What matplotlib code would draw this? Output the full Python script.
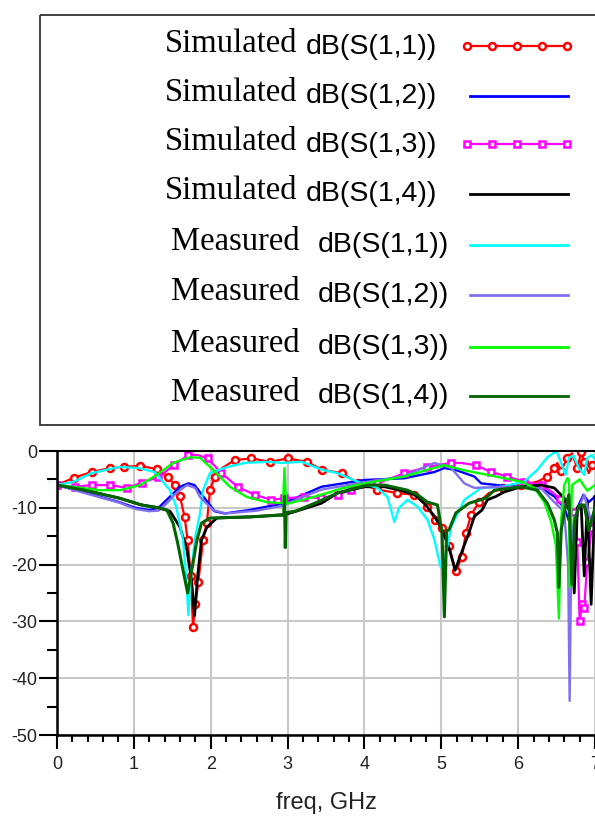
import matplotlib
matplotlib.use('Agg')
import matplotlib.pyplot as plt
from matplotlib.ticker import MultipleLocator
from matplotlib.patches import Rectangle

plt.rcParams['axes.unicode_minus'] = False

# S-parameter traces (freq in GHz, dB)
sim_s11_f = [0, 0.22, 0.45, 0.69, 0.87, 1.08, 1.3, 1.45, 1.53, 1.6, 1.66, 1.7, 1.74, 1.77, 1.8,
             1.84, 1.9, 1.95, 1.99, 2.05, 2.15, 2.31, 2.53, 2.77, 3.0, 3.25, 3.45, 3.71, 3.91, 4.17,
             4.43, 4.65, 4.82, 4.92, 5.01, 5.1, 5.19, 5.27, 5.32, 5.39, 5.49, 5.62, 5.8, 6.04, 6.25,
             6.38, 6.47, 6.51, 6.56, 6.64, 6.7, 6.77, 6.82, 6.86, 6.92, 6.96, 7.0]
sim_s11_db = [-6, -4.7, -3.7, -3.0, -2.8, -2.6, -3.2, -4.6, -6, -8, -11.6, -15.7, -22, -31, -27,
              -23, -15.7, -12.7, -6.9, -4.6, -3.0, -1.6, -1.3, -1.9, -1.3, -1.9, -3.3, -3.9, -5.6, -6.8,
              -7.4, -7.7, -9.8, -12.1, -13.5, -16.8, -21.2, -18.6, -14.4, -11.2, -9.0, -7.4, -6.6, -6.0, -5.4,
              -4.5, -3.0, -2.1, -3.5, -1.2, -0.4, -3.0, -0.2, -1.9, -3.9, -2.5, -2.0]

sim_s12_f = [0, 0.36, 0.81, 1.02, 1.2, 1.32, 1.45, 1.6, 1.71, 1.79, 1.92, 2.05, 2.18, 2.5, 2.96,
             3.0, 3.44, 4.0, 4.52, 4.91, 5.04, 5.2, 5.43, 5.52, 5.8, 6.04, 6.3, 6.47, 6.6, 6.68,
             6.72, 6.77, 6.85, 6.92, 7.0]
sim_s12_db = [-6, -7.3, -9.0, -10, -10.4, -10, -8.3, -6.3, -5.7, -6, -8.3, -10.6, -11, -10.4, -9.2,
              -8.9, -6.3, -5.1, -4.8, -3.7, -3.0, -3.4, -4.5, -5.7, -6.1, -6.3, -6.5, -8, -10, -13,
              -18, -10, -7.7, -9, -8]

sim_s13_f = [0, 0.23, 0.45, 0.69, 0.91, 1.1, 1.32, 1.52, 1.71, 1.83, 1.96, 2.14, 2.35, 2.57, 2.79,
             2.96, 3.22, 3.44, 3.65, 3.82, 4.17, 4.52, 4.82, 5.12, 5.26, 5.45, 5.65, 5.86, 6.08, 6.31,
             6.44, 6.55, 6.64, 6.73, 6.77, 6.8, 6.83, 6.86, 6.9, 6.96, 7.0]
sim_s13_db = [-6, -6.3, -6.0, -6.0, -6.5, -5.6, -4.6, -2.5, -0.7, -0.7, -1.3, -3.9, -6.3, -7.7, -8.6,
              -8.3, -8.1, -8.3, -7.7, -6.9, -5.7, -3.9, -2.8, -2.1, -2.1, -2.5, -3.7, -4.5, -5.4, -6.0,
              -7.2, -8.5, -9.2, -10.7, -16, -30, -27, -27.6, -19.5, -13.5, -12]

sim_s14_f = [0, 0.36, 0.81, 1.1, 1.32, 1.47, 1.6, 1.69, 1.75, 1.79, 1.83, 1.88, 1.95, 2.08, 2.53,
             2.96, 3.09, 3.44, 3.65, 4.0, 4.26, 4.47, 4.65, 4.78, 4.91, 5.0, 5.1, 5.18, 5.26, 5.36,
             5.43, 5.53, 5.6, 5.71, 5.82, 6.04, 6.3, 6.47, 6.6, 6.68, 6.73, 6.77, 6.82, 6.86, 6.9,
             6.95, 7.0]
sim_s14_db = [-6, -6.9, -8.3, -9.5, -10, -10.6, -13.4, -17.4, -22.7, -29, -22, -15.7, -13.4, -11.8, -11.6,
              -11.2, -10.7, -9.2, -7.4, -6.3, -6.3, -6.9, -7.7, -9.2, -11.5, -13.5, -17, -21, -18, -14.4,
              -11.5, -10.4, -8.6, -8, -7.2, -6.3, -6.0, -6.5, -8.3, -11, -25, -10, -9.5, -22, -9,
              -27, -8]

meas_s11_f = [0, 0.22, 0.45, 0.81, 1.06, 1.27, 1.47, 1.55, 1.64, 1.68, 1.71, 1.74, 1.8, 1.86, 1.9,
              1.99, 2.22, 2.44, 2.74, 2.94, 3.18, 3.45, 3.65, 3.91, 4.17, 4.3, 4.39, 4.45, 4.56, 4.69,
              4.82, 4.91, 4.99, 5.02, 5.13, 5.3, 5.52, 5.78, 6.08, 6.25, 6.38, 6.5, 6.57, 6.62, 6.66,
              6.72, 6.79, 6.86, 6.9, 6.96, 7.0]
meas_s11_db = [-6, -5.4, -3.9, -2.8, -3.0, -3.7, -6.9, -9.8, -15.7, -22, -28.9, -22, -15, -11, -6.9,
               -3.9, -2.8, -2.1, -1.9, -2.1, -1.9, -3.3, -3.9, -5.4, -6.5, -8.1, -12.5, -10, -8.6, -9.8,
               -12.1, -15.6, -20.4, -20.7, -13.3, -8.6, -6.5, -6.3, -5.4, -3.3, -1.1, 0, -2.5, -4.2, -1.2,
               -0.8, -3, -4.2, -1.2, -0.7, -1.5]

meas_s12_f = [0, 0.36, 0.81, 1.02, 1.2, 1.32, 1.43, 1.55, 1.69, 1.8, 1.86, 2.03, 2.2, 2.6, 2.96,
              3.0, 3.44, 4.0, 4.5, 4.91, 5.13, 5.3, 5.43, 5.8, 6.04, 6.3, 6.47, 6.6, 6.65, 6.67,
              6.69, 6.73, 6.86, 6.95, 7.0]
meas_s12_db = [-6, -7.4, -9.1, -10.2, -10.6, -10.5, -9.2, -7.4, -6, -6.5, -8.1, -10.4, -11, -10.5, -9.6,
               -9.2, -6.8, -5.5, -4.5, -2.1, -3.0, -5.7, -6.5, -6.3, -6.3, -6.6, -9, -10.7, -20, -44,
               -20, -11.8, -7.7, -12.5, -10]

meas_s13_f = [0, 0.2, 0.56, 0.82, 1.08, 1.3, 1.51, 1.73, 1.86, 2.03, 2.25, 2.47, 2.73, 2.94, 2.96,
              2.98, 3.0, 3.2, 3.44, 3.7, 4.0, 4.52, 4.82, 5.04, 5.3, 5.6, 6.04, 6.21, 6.34, 6.43,
              6.49, 6.53, 6.56, 6.6, 6.64, 6.66, 6.67, 6.7, 6.8, 6.9, 7.0]
meas_s13_db = [-6, -6.3, -6.9, -6.9, -6.0, -4.2, -2.1, -1.1, -1.2, -3.3, -6.3, -8.1, -9.0, -9.2, -3.0,
               -9.0, -9.3, -8.6, -7.7, -6.6, -5.7, -4.5, -3.3, -2.5, -3.4, -4.2, -5.4, -6.5, -9.0, -12.5,
               -16.5, -29.5, -12, -6, -4.8, -5, -24, -6, -5, -7, -6]

meas_s14_f = [0, 0.36, 0.81, 1.1, 1.32, 1.43, 1.51, 1.57, 1.64, 1.7, 1.77, 1.82, 1.88, 1.99, 2.5,
              2.9, 2.95, 2.96, 2.97, 2.98, 3.0, 3.1, 3.39, 3.65, 4.04, 4.26, 4.56, 4.69, 4.82, 4.95,
              5.01, 5.04, 5.07, 5.1, 5.19, 5.36, 5.58, 5.69, 6.04, 6.25, 6.38, 6.47, 6.51, 6.53, 6.56,
              6.6, 6.66, 6.7, 6.74, 6.8, 6.86, 6.92, 7.0]
meas_s14_db = [-6, -6.9, -8.3, -9.5, -10, -10.4, -12.7, -16.2, -21, -25, -19.7, -15.7, -12.7, -11.8, -11.6,
               -11.3, -11.3, -8, -17, -11, -10.8, -10.6, -9, -7.4, -6, -6, -6.9, -7.7, -9, -9.5,
               -14.4, -29.2, -14, -13.9, -10.9, -9.2, -8.3, -6.9, -6.3, -6.9, -9.2, -12.1, -14.4, -24, -14,
               -10.7, -7.7, -23.5, -12, -9.5, -9.5, -14, -10]

fig = plt.figure(figsize=(5.95, 8.18), dpi=100)
ax = fig.add_axes([57 / 595, 83 / 818, 538 / 595, 284 / 818])

ax.plot(sim_s11_f, sim_s11_db, color='#FF0000', lw=1.6, marker='o', ms=5, mfc='white',
        mec='#FF0000', mew=1.8, markevery=0.026)
ax.plot(sim_s12_f, sim_s12_db, color='#0000FF', lw=1.7)
ax.plot(sim_s13_f, sim_s13_db, color='#FF00FF', lw=1.6, marker='s', ms=5, mfc='white',
        mec='#FF00FF', mew=1.8, markevery=0.026)
ax.plot(sim_s14_f, sim_s14_db, color='#000000', lw=2.0)
ax.plot(meas_s11_f, meas_s11_db, color='#00FFFF', lw=1.7)
ax.plot(meas_s12_f, meas_s12_db, color='#8070F0', lw=1.7)
ax.plot(meas_s13_f, meas_s13_db, color='#00FF00', lw=1.7)
ax.plot(meas_s14_f, meas_s14_db, color='#006400', lw=2.2)

ax.set_xlim(0, 7)
ax.set_ylim(-50, 0)
ax.set_xticks(range(0, 8))
ax.set_yticks(range(-50, 1, 10))
ax.xaxis.set_minor_locator(MultipleLocator(0.2))
ax.yaxis.set_minor_locator(MultipleLocator(5))
ax.grid(True, which='major', color='#C8C8C8', lw=1.5)
ax.set_axisbelow(True)
ax.tick_params(axis='x', which='major', direction='out', length=10, width=1.5, pad=5,
               labelsize=13, labelcolor='#222222')
ax.tick_params(axis='x', which='minor', direction='out', length=5, width=1.5)
ax.tick_params(axis='y', which='major', direction='out', length=13, width=1.5, pad=1,
               labelsize=13, labelcolor='#222222')
ax.tick_params(axis='y', which='minor', direction='out', length=7, width=1.5)
for lab in ax.get_xticklabels() + ax.get_yticklabels():
    lab.set_fontfamily('Liberation Sans')
ax.spines['right'].set_visible(False)
for s in ['left', 'bottom']:
    ax.spines[s].set_linewidth(1.8)
ax.spines['top'].set_linewidth(1.5)
ax.set_xlabel('freq, GHz', fontsize=17, family='Liberation Sans', color='#222222', labelpad=14)

# legend drawn in pixel coordinates
lg = fig.add_axes([0, 0, 1, 1])
lg.set_xlim(0, 595)
lg.set_ylim(818, 0)
lg.axis('off')
lg.add_patch(Rectangle((40, 15), 600, 410, fill=False, ec='#333333', lw=1.3))

names = ['Simulated', 'Simulated', 'Simulated', 'Simulated',
         'Measured', 'Measured', 'Measured', 'Measured']
params = ['dB(S(1,1))', 'dB(S(1,2))', 'dB(S(1,3))', 'dB(S(1,4))',
          'dB(S(1,1))', 'dB(S(1,2))', 'dB(S(1,3))', 'dB(S(1,4))']
colors = ['#FF0000', '#0000FF', '#FF00FF', '#000000', '#00FFFF', '#8070F0', '#00FF00', '#006400']
markers = ['o', None, 's', None, None, None, None, None]
row_y = [44, 93, 142, 191, 242, 292, 344, 393]

for i in range(8):
    y = row_y[i]
    if i < 4:
        xr, xd = 297, 306
    else:
        xr, xd = 300, 318
    lg.text(xr, y, names[i], ha='right', va='center', fontsize=23.5, family='Liberation Serif')
    lg.text(xd, y + 3, params[i], ha='left', va='center', fontsize=20.5, family='Liberation Sans')
    if markers[i]:
        lg.plot([467, 492, 517, 542, 567], [y + 2] * 5, color=colors[i], lw=1.6, marker=markers[i],
                ms=5, mfc='white', mec=colors[i], mew=1.8)
    else:
        lg.plot([470, 568], [y + 3, y + 3], color=colors[i], lw=2)

fig.savefig('out.png', dpi=100)
